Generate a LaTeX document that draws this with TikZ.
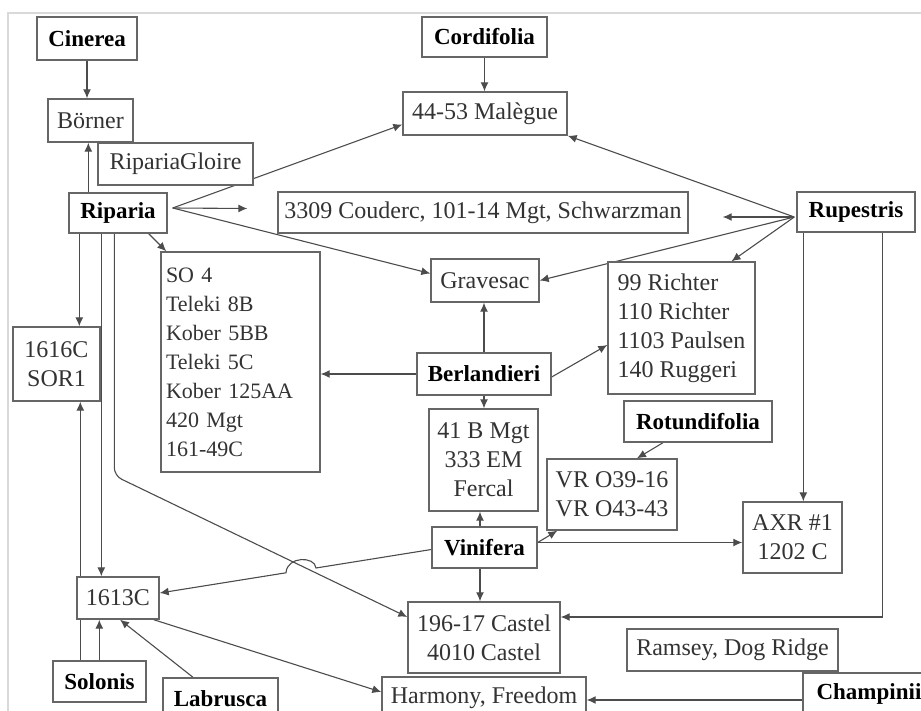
\documentclass[tikz,border=0pt]{standalone}
\usepackage{fontspec}
\setmainfont{Liberation Serif}
\usetikzlibrary{arrows.meta,backgrounds}

\begin{document}
\begin{tikzpicture}[x=1pt,y=-1pt,
  box/.style={draw=black!60,line width=1.4pt,fill=white,inner sep=0pt,text=black!80,
    font=\fontsize{24}{29}\selectfont,align=center},
  spec/.style={box,text=black,font=\fontsize{23}{29}\selectfont\bfseries},
  arr/.style={draw=black!70,line width=1.1pt,-{Latex[length=9pt,width=8pt]}}]
  \useasboundingbox (0,0) rectangle (921,711);
  \clip (0,0) rectangle (921,711);
  \draw[black!15,line width=1.2pt] (8,13) rectangle (940,730);

  % species (bold) and rootstocks
  \node[spec,minimum width=100,minimum height=43] (cinerea) at (87,38.5) {Cinerea};
  \node[box,minimum width=85,minimum height=43] (borner) at (90.5,120.5) {Börner};
  \node[box,minimum width=155,minimum height=42] (gloire) at (175.5,164) {RipariaGloire};
  \node[spec,minimum width=98,minimum height=40] (riparia) at (118,213) {Riparia};
  \node[spec,minimum width=125,minimum height=40] (cordifolia) at (484.5,37) {Cordifolia};
  \node[box,minimum width=164,minimum height=43] (malegue) at (485,113.5) {44-53 Malègue};
  \node[box,minimum width=410,minimum height=41] (couderc) at (483,212.5)
    {3309 Couderc, 101-14 Mgt, Schwarzman};
  \node[spec,minimum width=118,minimum height=40] (rupestris) at (856,212) {Rupestris};
  \node[box,minimum width=108,minimum height=43] (gravesac) at (485,280.5) {Gravesac};
  \node[box,minimum width=159,minimum height=220,align=left,inner xsep=5pt,text width=149,
    font=\fontsize{22}{29}\selectfont] (solist) at (240.5,362)
    {SO 4\\Teleki 8B\\Kober 5BB\\Teleki 5C\\Kober 125AA\\420 Mgt\\161-49C};
  \node[box,minimum width=147,minimum height=132,align=left]
    (richter) at (681.5,328) {99 Richter\\110 Richter\\1103 Paulsen\\140 Ruggeri};
  \node[spec,minimum width=134,minimum height=42] (berlandieri) at (484,374) {Berlandieri};
  \node[box,minimum width=87,minimum height=74] (sor) at (56.5,364) {1616C\\SOR1};
  \node[box,minimum width=109,minimum height=102] (mgt) at (483.5,460) {41 B Mgt\\333 EM\\Fercal};
  \node[spec,minimum width=148,minimum height=41] (rotundifolia) at (698,421.5) {Rotundifolia};
  \node[box,minimum width=130,minimum height=71] (vr) at (612,494.5) {VR O39-16\\VR O43-43};
  \node[spec,minimum width=105,minimum height=41] (vinifera) at (484.5,547.5) {Vinifera};
  \node[box,minimum width=99,minimum height=71] (axr) at (792.5,537.5) {AXR \#1\\1202 C};
  \node[box,minimum width=82,minimum height=42] (c1613) at (118,598) {1613C};
  \node[box,minimum width=152,minimum height=71] (castel) at (484,637.5) {196-17 Castel\\4010 Castel};
  \node[box,minimum width=211,minimum height=42] (ramsey) at (732.5,650) {Ramsey, Dog Ridge};
  \node[spec,minimum width=93,minimum height=41] (solonis) at (99.5,681.5) {Solonis};
  \node[spec,minimum width=115,minimum height=42] (labrusca) at (220.5,699) {Labrusca};
  \node[box,minimum width=204,minimum height=42] (harmony) at (484,698) {Harmony, Freedom};
  \node[spec,minimum width=132,minimum height=42] (champinii) at (869,694) {Champinii};

  \begin{pgfonlayer}{background}
    % Riparia
    \coordinate (rip) at ([xshift=5pt,yshift=5pt]riparia.east);
    \draw[arr] (rip) -- ([yshift=-11pt]malegue.west);
    \draw[arr] (rip) -- ([xshift=-30pt,yshift=4pt]couderc.west);
    \draw[arr] (rip) -- ([yshift=7pt]gravesac.west);
    \draw[arr] ([xshift=-19pt]riparia.south east) -- ([xshift=6pt]solist.north west);
    \draw[arr] ([xshift=20pt]riparia.north west) -- ([xshift=20pt]riparia.north west |- borner.south);
    \draw[arr] ([xshift=11pt]riparia.south west) -- ([xshift=11pt]riparia.south west |- sor.north);
    \draw[arr] ([xshift=33pt]riparia.south west) -- ([xshift=33pt]riparia.south west |- c1613.north);
    \draw[arr,rounded corners=8pt] ([xshift=46pt]riparia.south west) -- ++(0,242)
      -- ([yshift=20.5pt]castel.west);
    % Rupestris
    \coordinate (rup) at ([xshift=-2pt,yshift=-5pt]rupestris.west);
    \draw[arr] (rup) -- (malegue.south east);
    \draw[arr] (rup) -- ([xshift=34pt,yshift=-4.5pt]couderc.east);
    \draw[arr] (rup) -- (gravesac.east);
    \draw[arr] (rup) -- ([xshift=50pt]richter.north);
    \draw[arr] ([xshift=7pt]rupestris.south west) -- ([xshift=7pt]rupestris.south west |- axr.north);
    \draw[arr] ([xshift=-33pt]rupestris.south east) |- ([yshift=20.5pt]castel.east);
    % Berlandieri
    \draw[arr] (berlandieri.north) -- (berlandieri.north |- gravesac.south);
    \draw[arr] (berlandieri.west) -- (berlandieri.west -| solist.east);
    \draw[arr] ([yshift=-3pt]berlandieri.east) -- ([yshift=-17pt]richter.west);
    \draw[arr] (berlandieri.south) -- (berlandieri.south |- mgt.north);
    % Vinifera
    \draw[arr] ([xshift=-4.5pt]vinifera.north) -- ([xshift=-4.5pt]vinifera.north |- mgt.south);
    \draw[arr] ([xshift=-4.5pt]vinifera.south) -- ([xshift=-4.5pt]vinifera.south |- castel.north);
    \draw[arr] ([yshift=5pt]vinifera.east) -- ([xshift=11pt]vr.south west);
    \draw[arr] ([yshift=5pt]vinifera.east) -- ([yshift=5pt]vinifera.east -| axr.west);
    \draw[arr] ([yshift=-2pt]vinifera.west) -- (316,568)
      .. controls (315,556) and (287,556) .. (286,572.8) -- ([yshift=5pt]c1613.east);
    % others
    \draw[arr] (cinerea.south) -- (cinerea.south |- borner.north);
    \draw[arr] (cordifolia.south) -- (cordifolia.south |- malegue.north);
    \draw[arr] ([xshift=-35pt]rotundifolia.south) -- ([xshift=25pt]vr.north);
    \draw[arr] ([xshift=28pt]solonis.north west) -- ([xshift=28pt]solonis.north west |- sor.south);
    \draw[arr] ([xshift=47pt]solonis.north west) -- ([xshift=47pt]solonis.north west |- c1613.south);
    \draw[arr] ([xshift=-27.5pt]labrusca.north) -- ([xshift=2pt]c1613.south);
    \draw[arr] ([xshift=-6pt]c1613.south east) -- ([yshift=6pt]harmony.west);
    \draw[arr] ([yshift=-6pt]champinii.west) -- ([yshift=-6pt]champinii.west -| harmony.east);
  \end{pgfonlayer}
\end{tikzpicture}
\end{document}
